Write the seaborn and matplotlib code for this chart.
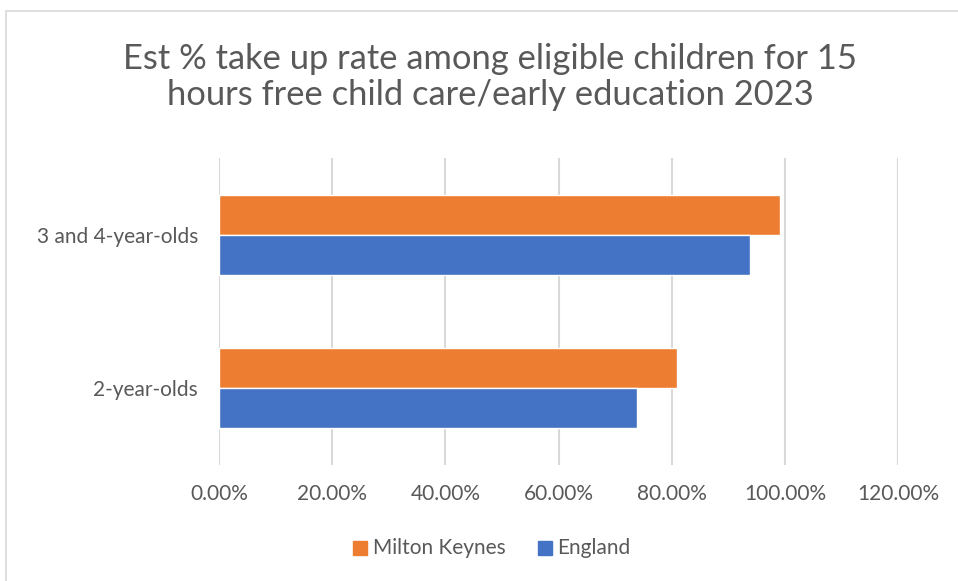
import matplotlib
matplotlib.use("Agg")
import matplotlib.pyplot as plt
import seaborn as sns
import pandas as pd
from matplotlib.patches import Rectangle
from matplotlib.ticker import FuncFormatter

categories = ["3 and 4-year-olds", "2-year-olds"]
series = ["Milton Keynes", "England"]
milton_keynes = [99.1, 80.9]
england = [93.8, 73.9]
xticks = [0, 20, 40, 60, 80, 100, 120]
title = "Est % take up rate among eligible children for 15\nhours free child care/early education 2023"

df = pd.DataFrame({
    "cat": categories * 2,
    "series": [series[0]] * 2 + [series[1]] * 2,
    "value": milton_keynes + england,
})

sns.set_theme(style="white")
plt.rcParams["font.family"] = ["Lato", "DejaVu Sans"]

W, H = 958, 581
fig = plt.figure(figsize=(W / 100, H / 100), dpi=100)
ax = fig.add_axes([219 / W, 1 - 465 / H, (898 - 219) / W, (465 - 158) / H])

colors = {"Milton Keynes": "#ED7D31", "England": "#4472C4"}
sns.barplot(data=df, x="value", y="cat", hue="series", order=categories,
            hue_order=series, palette=colors, width=0.523, orient="h",
            ax=ax, legend=False, saturation=1)

ax.set_xlim(0, 120)
ax.set_ylim(1.5, -0.5)
ax.set_xticks(xticks)
ax.xaxis.set_major_formatter(FuncFormatter(lambda v, p: f"{v:.2f}%"))
ax.grid(axis="x", color="#D9D9D9", linewidth=1.5)
ax.set_axisbelow(True)
for s in ax.spines.values():
    s.set_visible(False)
ax.set_xlabel("")
ax.set_ylabel("")
ax.tick_params(axis="both", length=0, labelsize=15, colors="#595959")
ax.tick_params(axis="x", pad=14)
ax.tick_params(axis="y", pad=15)

fig.text(490 / W, 1 - 77 / H, title, ha="center", va="center", fontsize=24.8,
         color="#595959", linespacing=1.15)

# legend
ly = 1 - 548 / H
fig.patches.append(Rectangle((353 / W, ly - 7 / H), 14 / W, 14 / H,
                             transform=fig.transFigure, color="#ED7D31"))
fig.text(373 / W, ly, "Milton Keynes", ha="left", va="center", fontsize=15, color="#595959")
fig.patches.append(Rectangle((538 / W, ly - 7 / H), 14 / W, 14 / H,
                             transform=fig.transFigure, color="#4472C4"))
fig.text(557 / W, ly, "England", ha="left", va="center", fontsize=15, color="#595959")

# outer frame
fig.patches.append(Rectangle((6 / W, -0.1), 1.1, 1 - 11 / H + 0.1, transform=fig.transFigure,
                             fill=False, edgecolor="#D9D9D9", linewidth=1.2))

fig.savefig("out.png", dpi=100)
